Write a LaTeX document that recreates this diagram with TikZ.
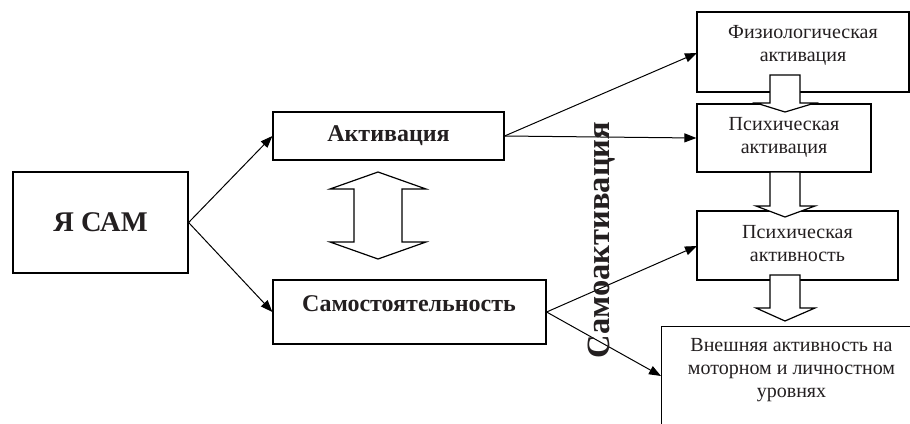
\documentclass[tikz,border=0pt]{standalone}
\usepackage{fontspec}
\setmainfont{Liberation Serif}
\usetikzlibrary{arrows.meta}
\definecolor{txt}{HTML}{231F20}
\tikzset{
  box/.style={draw=black, line width=1.2pt, fill=white, inner sep=0pt},
  lbl/.style={text=txt, font=\rmfamily\fontsize{20}{23}\selectfont, align=center, inner sep=0pt},
  blbl/.style={text=txt, font=\rmfamily\fontsize{24}{28}\selectfont\bfseries, inner sep=0pt},
  conn/.style={draw=black, line width=1pt, -{Triangle[length=12pt,width=9pt]}},
  barrow/.style={draw=black, line width=1.2pt, fill=white},
}
\begin{document}
\begin{tikzpicture}[x=1pt,y=-1pt]
\useasboundingbox (0,0) rectangle (910,423);
\clip (0,0) rectangle (910,423);
% left boxes
\node[box, minimum width=175pt, minimum height=101pt] (ya) at (100.5,222.5) {};
\node[blbl, font=\rmfamily\fontsize{28.5}{32}\selectfont\bfseries] (yat) at (ya.center) {Я САМ};
\node[box, minimum width=231pt, minimum height=48pt] (akt) at (388.5,136) {};
\node[blbl] (aktt) at (388.5,136) {Активация};
\node[box, minimum width=273pt, minimum height=64pt] (sam) at (409.5,312) {};
\node[blbl] (samt) at (409,304) {Самостоятельность};
% double block arrow
\draw[barrow] (378,172) -- (426,189) -- (402,189) -- (402,242) -- (426,242) -- (378,259)
  -- (330,242) -- (354,242) -- (354,189) -- (330,189) -- cycle;
% right boxes
\node[box, minimum width=212pt, minimum height=80pt] (fiz) at (803,52) {};
\node[lbl] (fizt) at (803,45) {Физиологическая\\активация};
\node[box, minimum width=174pt, minimum height=68pt] (pak) at (784,138) {};
\node[lbl] (pakt) at (784,137) {Психическая\\активация};
\node[box, minimum width=201pt, minimum height=69pt] (pat) at (797.5,245.5) {};
\node[lbl] (patt) at (797.5,244) {Психическая\\активность};
\node[box, minimum width=280pt, minimum height=120pt, anchor=north west] (vn) at (661,326) {};
\node[lbl] (vnt) at (791.5,370) {Внешняя активность на\\моторном и личностном\\уровнях};
% block arrows down
\draw[barrow] (770,75) -- (800,75) -- (800,103) -- (815,103) -- (785,112) -- (756,103) -- (770,103) -- cycle;
\draw[barrow] (770,172) -- (800,172) -- (800,206) -- (815,206) -- (785,217) -- (756,206) -- (770,206) -- cycle;
\draw[barrow] (770,275) -- (800,275) -- (800,308) -- (815,308) -- (785,321) -- (756,308) -- (770,308) -- cycle;
% connectors
\coordinate (fizin) at (697,53);
\coordinate (vnin) at (661,376);
\coordinate (patin) at (697,246);
\draw[conn] (ya.east) -- (akt.west);
\draw[conn] (ya.east) -- (sam.west);
\draw[conn] (akt.east) -- (fizin);
\draw[conn] (akt.east) -- (pak.west);
\draw[conn] (sam.east) -- (patin);
\draw[conn] (sam.east) -- (vnin);
% vertical label
\node[text=txt, font=\rmfamily\fontsize{32.5}{36}\selectfont\bfseries, rotate=90, inner sep=0pt] (samakt) at (602,240) {Самоактивация};
\end{tikzpicture}
\end{document}
